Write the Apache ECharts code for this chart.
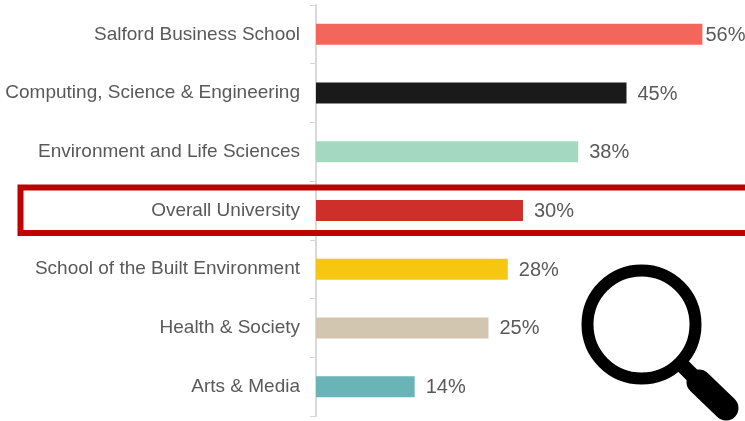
<!DOCTYPE html>
<html>
<head>
<meta charset="utf-8">
<style>
  html, body { margin: 0; padding: 0; background: #fff; }
  #chart { width: 745px; height: 421px; }
</style>
</head>
<body>
<div id="chart"></div>
<script src="https://cdn.jsdelivr.net/npm/echarts@6/dist/echarts.min.js"></script>
<script>
const categories = ['Salford Business School', 'Computing, Science & Engineering', 'Environment and Life Sciences', 'Overall University', 'School of the Built Environment', 'Health & Society', 'Arts & Media']
const values = [56, 45, 38, 30, 27.8, 25, 14.3] // 柱长按图估读，标签取整
const colors = ['#F4665C', '#1A1A1A', '#A5D8C0', '#CF2F2A', '#F5C710', '#D3C6B1', '#68B4B6']
const labelGaps = [3, 11, 11, 11, 11, 11, 11] // the top label sits tight against its bar

const myChart = echarts.init(document.getElementById('chart'))

const options = {
  animation: false,
  grid: { left: 316, right: 15, top: 5, bottom: 5 },
  xAxis: { type: 'value', min: 0, max: 60, show: false },
  yAxis: {
    type: 'category',
    inverse: true,
    data: categories,
    axisLine: { lineStyle: { color: '#D9D9D9', width: 2 } },
    axisTick: { show: true, alignWithLabel: false, length: 6, lineStyle: { color: '#D9D9D9', width: 1 } },
    axisLabel: { color: '#595959', fontFamily: 'Liberation Sans', fontSize: 19, margin: 16 }
  },
  series: [{
    type: 'bar',
    barWidth: 21,
    data: values.map((v, i) => ({
      value: v,
      itemStyle: { color: colors[i] },
      label: { distance: labelGaps[i] }
    })),
    label: {
      show: true,
      position: 'right',
      formatter: (p) => Math.round(p.value) + '%',
      color: '#595959',
      fontFamily: 'Liberation Sans',
      fontSize: 20,
      offset: [0, 1]
    }
  }],
  // 高亮框 + 放大镜
  graphic: [
    { type: 'rect', z: 10, shape: { x: 20.5, y: 187.5, width: 740, height: 45.5 }, style: { fill: 'none', stroke: '#C00000', lineWidth: 6 } },
    { type: 'circle', z: 10, shape: { cx: 641.5, cy: 324.5, r: 54 }, style: { fill: 'none', stroke: '#000', lineWidth: 12 } },
    { type: 'line', z: 10, shape: { x1: 680, y1: 363, x2: 700, y2: 383 }, style: { stroke: '#000', lineWidth: 15 } },
    { type: 'line', z: 10, shape: { x1: 699, y1: 382, x2: 726, y2: 408 }, style: { stroke: '#000', lineWidth: 25, lineCap: 'round' } }
  ]
}
myChart.setOption(options)
</script>
</body>
</html>
